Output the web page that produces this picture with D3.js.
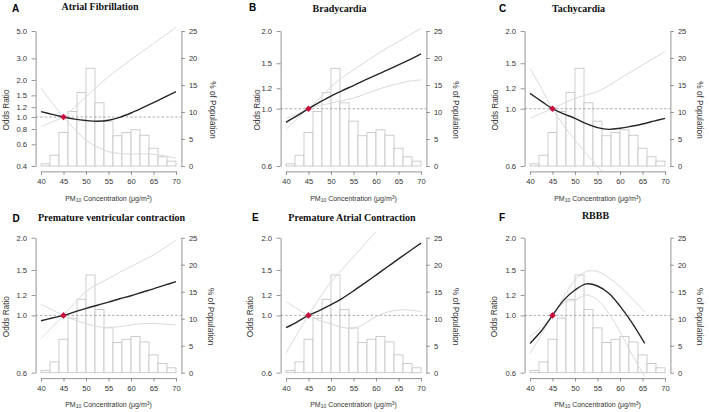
<!DOCTYPE html>
<html><head><meta charset="utf-8">
<script src="https://cdn.jsdelivr.net/npm/d3@7"></script>
<style>body{margin:0;background:#fff}svg{display:block}</style>
</head><body>
<script>
// ---------- DATA ----------
const pmGrid = [40, 42.5, 45, 47.5, 50, 52.5, 55, 57.5, 60, 62.5, 65, 67.5, 70];
const pmGridRBBB = [40, 42.5, 45, 47.5, 50, 52.5, 55, 57.5, 60, 62.5, 65.5];
const binStart = [40, 42, 44, 46, 48, 50, 52, 54, 56, 58, 60, 62, 64, 66, 68];
const binWidth = 2;
const popPct = [0.4, 2.0, 6.2, 10.1, 13.6, 18.1, 11.7, 8.3, 5.6, 6.2, 6.7, 5.7, 3.3, 1.7, 0.9];
const popTicks = [0, 5, 10, 15, 20, 25];
const pmTicks = [40, 45, 50, 55, 60, 65, 70];
const orTicksAF = [0.4, 0.6, 0.8, 1.0, 1.2, 1.5, 2.0, 3.0, 5.0];
const orTicksOther = [0.6, 1.0, 1.2, 1.5, 2.0];
const refPM = 45, refOR = 1.0;

// Atrial Fibrillation
const orAF   = [1.106, 1.051, 1.0, 0.961, 0.937, 0.925, 0.942, 0.995, 1.078, 1.185, 1.31, 1.448, 1.608];
const ciAF_1 = [1.71, 1.30, 1.0, 0.79, 0.65, 0.57, 0.523, 0.505, 0.50, 0.503, 0.498, 0.483, 0.466];
const ciAF_2 = [0.836, 0.915, 1.0, 1.2, 1.465, 1.77, 2.13, 2.5, 2.93, 3.4, 3.96, 4.6, 5.4];
// Bradycardia
const orBrady   = [0.886, 0.94, 1.0, 1.06, 1.12, 1.175, 1.23, 1.29, 1.35, 1.41, 1.477, 1.55, 1.63];
const ciBrady_1 = [0.918, 0.955, 1.0, 1.1, 1.218, 1.32, 1.413, 1.51, 1.615, 1.72, 1.82, 1.93, 2.05];
const ciBrady_2 = [0.832, 0.915, 1.0, 1.03, 1.05, 1.075, 1.098, 1.14, 1.18, 1.22, 1.25, 1.28, 1.293];
// Tachycardia
const orTachy   = [1.147, 1.07, 1.0, 0.955, 0.918, 0.875, 0.845, 0.832, 0.84, 0.855, 0.873, 0.895, 0.918];
const ciTachy_1 = [1.433, 1.2, 1.0, 0.86, 0.757, 0.67, 0.597, 0.54, 0.49, 0.45, 0.42, 0.40, 0.38];
const ciTachy_2 = [0.918, 0.96, 1.0, 1.05, 1.098, 1.13, 1.164, 1.23, 1.31, 1.39, 1.477, 1.57, 1.665];
// Premature ventricular contraction
const orPVC   = [0.954, 0.977, 1.0, 1.032, 1.065, 1.095, 1.126, 1.16, 1.192, 1.23, 1.268, 1.31, 1.351];
const ciPVC_1 = [1.104, 1.05, 1.0, 0.96, 0.93, 0.905, 0.899, 0.905, 0.918, 0.93, 0.93, 0.925, 0.918];
const ciPVC_2 = [0.815, 0.9, 1.0, 1.12, 1.238, 1.32, 1.391, 1.47, 1.544, 1.63, 1.714, 1.83, 1.959];
// Premature Atrial Contraction
const orPAC   = [0.896, 0.945, 1.0, 1.046, 1.1, 1.165, 1.244, 1.334, 1.433, 1.54, 1.655, 1.777, 1.906];
const ciPAC_1 = [1.13, 1.06, 1.0, 0.955, 0.927, 0.9, 0.891, 0.93, 0.989, 1.03, 1.049, 1.05, 1.033];
const ciPAC_2 = [0.713, 0.85, 1.0, 1.17, 1.35, 1.51, 1.69, 1.89, 2.11, 2.35, 2.6, 2.9, 3.2];
// RBBB
const orRBBB   = [0.779, 0.87, 1.0, 1.146, 1.254, 1.325, 1.30, 1.218, 1.087, 0.946, 0.779];
const ciRBBB_1 = [0.827, 0.9, 1.0, 1.18, 1.372, 1.48, 1.48, 1.40, 1.293, 1.17, 1.033];
const ciRBBB_2 = [0.713, 0.84, 1.0, 1.12, 1.146, 1.2, 1.146, 1.018, 0.864, 0.713, 0.58];

const panels = [
  {letter: "A", title: "Atrial Fibrillation", yDomain: [0.4, 5.0], yTicks: orTicksAF, xs: pmGrid, or: orAF, ci: [ciAF_1, ciAF_2]},
  {letter: "B", title: "Bradycardia", yDomain: [0.6, 2.0], yTicks: orTicksOther, xs: pmGrid, or: orBrady, ci: [ciBrady_1, ciBrady_2]},
  {letter: "C", title: "Tachycardia", yDomain: [0.6, 2.0], yTicks: orTicksOther, xs: pmGrid, or: orTachy, ci: [ciTachy_1, ciTachy_2]},
  {letter: "D", title: "Premature ventricular contraction", yDomain: [0.6, 2.0], yTicks: orTicksOther, xs: pmGrid, or: orPVC, ci: [ciPVC_1, ciPVC_2]},
  {letter: "E", title: "Premature Atrial Contraction", yDomain: [0.6, 2.0], yTicks: orTicksOther, xs: pmGrid, or: orPAC, ci: [ciPAC_1, ciPAC_2]},
  {letter: "F", title: "RBBB", yDomain: [0.6, 2.0], yTicks: orTicksOther, xs: pmGridRBBB, or: orRBBB, ci: [ciRBBB_1, ciRBBB_2]}
];

// ---------- LAYOUT ----------
const W = 709, H = 412;
const colX40 = [41, 286, 530];
const rowTop = [31, 237.7];
const plotW = 135, plotH = 135, pad = 5.4;
const layout = [
  {oddsX: 6, popX: 213, titleX: 100, titleY: 9.5, letterX: 12, letterY: 12},
  {oddsX: 257, popX: 456, titleX: 339.5, titleY: 11.5, letterX: 249, letterY: 11},
  {oddsX: 495, popX: 700, titleX: 578.5, titleY: 11.5, letterX: 499, letterY: 12},
  {oddsX: 6, popX: 211, titleX: 111.5, titleY: 220.5, letterX: 12.5, letterY: 221.5},
  {oddsX: 250, popX: 456, titleX: 352, titleY: 220.5, letterX: 252, letterY: 220.5},
  {oddsX: 494, popX: 700, titleX: 595.5, titleY: 218.5, letterX: 499, letterY: 220.5}
];

const svg = d3.select("body").append("svg").attr("width", W).attr("height", H)
  .style("font-family", "'Liberation Sans', Arial, sans-serif");

const axisColor = "#7a7a7a", textColor = "#333";

panels.forEach((p, i) => {
  const col = i % 3, row = Math.floor(i / 3), L = layout[i];
  const x0 = colX40[col], yT = rowTop[row];
  const x = d3.scaleLinear().domain([40, 70]).range([x0, x0 + plotW]);
  const y = d3.scaleLog().domain(p.yDomain).range([yT + plotH, yT]);
  const yP = d3.scaleLinear().domain([0, 25]).range([yT + plotH, yT]);
  const g = svg.append("g");

  const clipId = "clip" + i;
  svg.append("clipPath").attr("id", clipId).append("rect")
    .attr("x", x0 - pad).attr("y", yT - pad).attr("width", plotW + 2 * pad).attr("height", plotH + 2 * pad);

  // histogram
  g.selectAll("rect.bar").data(binStart).enter().append("rect")
    .attr("x", (d) => x(d)).attr("width", (d) => x(d + binWidth) - x(d))
    .attr("y", (d, k) => yP(popPct[k])).attr("height", (d, k) => yP(0) - yP(popPct[k]))
    .attr("fill", "#fff").attr("stroke", "#c0c0c0").attr("stroke-width", 0.8);

  // reference line
  g.append("line").attr("x1", x0 - pad).attr("x2", x0 + plotW + pad)
    .attr("y1", y(refOR)).attr("y2", y(refOR))
    .attr("stroke", "#999").attr("stroke-width", 0.8).attr("stroke-dasharray", "2.5,2");

  const line = (vals) => d3.line().x((d, k) => x(p.xs[k])).y((d) => y(d)).curve(d3.curveCatmullRom)(vals);
  const lg = g.append("g").attr("clip-path", `url(#${clipId})`);
  p.ci.forEach((c) => {
    lg.append("path").attr("d", line(c)).attr("fill", "none").attr("stroke", "#d9d9d9").attr("stroke-width", 1);
  });
  lg.append("path").attr("d", line(p.or)).attr("fill", "none").attr("stroke", "#262626").attr("stroke-width", 1.4);

  g.append("path").attr("transform", `translate(${x(refPM)},${y(refOR)}) rotate(45)`)
    .attr("d", d3.symbol().type(d3.symbolSquare).size(22)()).attr("fill", "#c8103e");

  // axes
  const styleAxis = (sel) => {
    sel.selectAll("path.domain").attr("stroke", axisColor).attr("stroke-width", 0.8);
    sel.selectAll(".tick line").attr("stroke", axisColor).attr("stroke-width", 0.8);
    sel.selectAll(".tick text").attr("fill", textColor).style("font-size", "7.6px")
      .style("font-family", "'Liberation Sans', Arial, sans-serif");
  };
  g.append("g").attr("transform", `translate(0,${yT + plotH + pad})`)
    .call(d3.axisBottom(x).tickValues(pmTicks).tickFormat(d3.format("d")).tickSize(3.5).tickPadding(4).tickSizeOuter(0))
    .call(styleAxis);
  g.append("g").attr("transform", `translate(${x0 - pad},0)`)
    .call(d3.axisLeft(y).tickValues(p.yTicks).tickFormat(d3.format(".1f")).tickSize(4).tickPadding(4.5).tickSizeOuter(0))
    .call(styleAxis);
  g.append("g").attr("transform", `translate(${x0 + plotW + pad},0)`)
    .call(d3.axisRight(yP).tickValues(popTicks).tickFormat(d3.format("d")).tickSize(3.5).tickPadding(4).tickSizeOuter(0))
    .call(styleAxis);

  // labels
  const cy = yT + 79;
  g.append("text").attr("transform", `translate(${L.oddsX + 3},${cy}) rotate(-90)`)
    .attr("text-anchor", "middle").attr("fill", textColor).style("font-size", "8.2px").text("Odds Ratio");
  g.append("text").attr("transform", `translate(${L.popX - 3},${cy}) rotate(90)`)
    .attr("text-anchor", "middle").attr("fill", textColor).style("font-size", "8.2px").text("% of Population");
  const xl = g.append("text").attr("x", x0 + plotW / 2).attr("y", yT + plotH + 34.5)
    .attr("text-anchor", "middle").attr("fill", textColor).style("font-size", "7px");
  xl.append("tspan").text("PM");
  xl.append("tspan").attr("baseline-shift", "-25%").style("font-size", "5px").text("10");
  xl.append("tspan").text(" Concentration (μg/m");
  xl.append("tspan").attr("baseline-shift", "40%").style("font-size", "5px").text("3");
  xl.append("tspan").text(")");

  g.append("text").attr("x", L.titleX).attr("y", L.titleY).attr("text-anchor", "middle")
    .style("font-family", "'Liberation Serif', 'Times New Roman', serif").style("font-weight", "bold")
    .style("font-size", "10px").attr("fill", "#111").text(p.title);
  g.append("text").attr("x", L.letterX).attr("y", L.letterY)
    .style("font-weight", "bold").style("font-size", "10px").attr("fill", "#000").text(p.letter);
});
</script>
</body></html>
